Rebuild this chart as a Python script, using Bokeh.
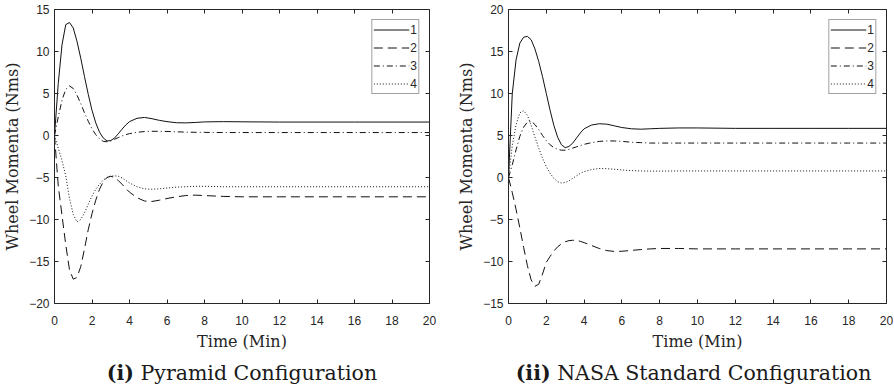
from bokeh.plotting import figure
from bokeh.models import Range1d, LinearAxis, FixedTicker, Legend, LegendItem, Div
from bokeh.layouts import row, column
from bokeh.embed import file_html
from bokeh.resources import INLINE

# ---------------- data ----------------
time_min = [0, 0.2, 0.4, 0.6, 0.8, 1.0, 1.2, 1.4, 1.6, 1.8, 2.0, 2.2, 2.4, 2.6, 2.8,
            3.0, 3.2, 3.4, 3.6, 3.8, 4.0, 4.4, 4.8, 5.2, 5.6, 6.0, 6.5, 7.0, 7.5, 8.0,
            9.0, 10.0, 12.0, 14.0, 16.0, 18.0, 20.0]

# (i) Pyramid configuration
pyr_1 = [0, 6.2, 10.8, 13.2, 13.45, 12.8, 11.2, 9.2, 7.0, 4.9, 3.0, 1.5, 0.4, -0.3, -0.65,
         -0.6, -0.3, 0.2, 0.75, 1.25, 1.65, 2.05, 2.15, 2.0, 1.8, 1.65, 1.52, 1.5, 1.55, 1.62,
         1.65, 1.63, 1.6, 1.6, 1.6, 1.6, 1.6]
pyr_2 = [0, -6.0, -9.5, -13.0, -16.0, -17.1, -16.9, -15.6, -13.5, -11.2, -9.3, -7.7, -6.4, -5.5, -5.0,
         -4.85, -5.0, -5.35, -5.8, -6.3, -6.75, -7.4, -7.8, -7.85, -7.7, -7.5, -7.3, -7.15, -7.1, -7.15,
         -7.25, -7.3, -7.3, -7.3, -7.3, -7.3, -7.3]
pyr_3 = [0, 2.2, 4.2, 5.5, 5.9, 5.6, 4.8, 3.8, 2.7, 1.7, 0.8, 0.1, -0.4, -0.7, -0.75,
         -0.65, -0.45, -0.25, -0.05, 0.1, 0.22, 0.38, 0.47, 0.5, 0.5, 0.48, 0.44, 0.4, 0.38, 0.37,
         0.35, 0.35, 0.35, 0.35, 0.35, 0.35, 0.35]
pyr_4 = [0, -1.5, -3.0, -4.8, -7.5, -9.4, -10.3, -10.0, -9.2, -8.2, -7.2, -6.4, -5.8, -5.3, -5.0,
         -4.85, -4.8, -4.85, -5.05, -5.35, -5.65, -6.1, -6.35, -6.4, -6.35, -6.25, -6.15, -6.1, -6.05, -6.05,
         -6.1, -6.1, -6.1, -6.1, -6.1, -6.1, -6.1]

# (ii) NASA standard configuration
nasa_1 = [0, 10.0, 14.0, 16.0, 16.7, 16.8, 16.4, 15.3, 13.8, 12.0, 10.0, 8.0, 6.2, 4.8, 3.9,
          3.55, 3.7, 4.1, 4.7, 5.3, 5.8, 6.25, 6.4, 6.35, 6.15, 5.95, 5.8, 5.75, 5.8, 5.85,
          5.9, 5.9, 5.85, 5.85, 5.85, 5.85, 5.85]
nasa_2 = [0, -1.8, -3.8, -6.0, -8.3, -10.5, -12.2, -12.95, -12.7, -11.5, -10.1, -9.4, -8.75, -8.25, -7.9,
          -7.65, -7.52, -7.47, -7.5, -7.6, -7.75, -8.1, -8.45, -8.7, -8.8, -8.78, -8.68, -8.58, -8.5, -8.45,
          -8.45, -8.5, -8.5, -8.5, -8.5, -8.5, -8.5]
nasa_3 = [0, 1.5, 3.3, 4.9, 6.0, 6.6, 6.7, 6.3, 5.7, 5.0, 4.4, 3.9, 3.55, 3.35, 3.25,
          3.25, 3.35, 3.5, 3.65, 3.8, 3.95, 4.15, 4.3, 4.35, 4.35, 4.3, 4.2, 4.15, 4.1, 4.1,
          4.1, 4.1, 4.1, 4.1, 4.1, 4.1, 4.1]
nasa_4 = [0, 3.8, 6.3, 7.7, 7.95, 7.4, 6.2, 4.8, 3.5, 2.3, 1.3, 0.5, -0.1, -0.5, -0.65,
          -0.6, -0.4, -0.1, 0.2, 0.5, 0.7, 0.95, 1.07, 1.05, 0.98, 0.9, 0.82, 0.78, 0.76, 0.76,
          0.78, 0.78, 0.78, 0.78, 0.78, 0.78, 0.78]

series_labels = ["1", "2", "3", "4"]
x_ticks = [0, 2, 4, 6, 8, 10, 12, 14, 16, 18, 20]
pyr_y_ticks = [-20, -15, -10, -5, 0, 5, 10, 15]
nasa_y_ticks = [-15, -10, -5, 0, 5, 10, 15, 20]

x_label = "Time (Min)"
y_label = "Wheel Momenta (Nms)"

# ---------------- styling ----------------
INK = "#262626"
LINE = "#111111"
dashes = ["solid", "9 5", "6 3 1 3", "1 2"]


def style_axis(ax, ticks, show_labels=True):
    ax.ticker = FixedTicker(ticks=ticks)
    ax.major_tick_in = 4
    ax.major_tick_out = 0
    ax.minor_tick_in = 0
    ax.minor_tick_out = 0
    ax.axis_line_color = INK
    ax.axis_line_width = 1
    ax.major_tick_line_color = INK
    ax.major_tick_line_width = 1
    if show_labels:
        ax.major_label_text_font = "Liberation Sans"
        ax.major_label_text_font_size = "12px"
        ax.major_label_text_color = INK
        ax.axis_label_text_font = "DejaVu Serif"
        ax.axis_label_text_font_size = "16px"
        ax.axis_label_text_font_style = "normal"
        ax.axis_label_text_color = INK
    else:
        ax.major_label_text_font_size = "0px"
        ax.major_label_text_color = None
        ax.major_label_standoff = 0


def make_panel(series, y_lo, y_hi, y_ticks, width, left_border, right_border):
    p = figure(width=width, height=360,
               x_range=Range1d(0, 20), y_range=Range1d(y_lo, y_hi),
               output_backend="svg", toolbar_location=None,
               min_border_left=left_border, min_border_right=right_border,
               min_border_top=9, min_border_bottom=57)
    p.grid.visible = False
    p.outline_line_color = None
    p.background_fill_color = "white"
    p.border_fill_color = "white"

    renderers = []
    for vals, dash in zip(series, dashes):
        r = p.line(time_min, vals, line_color=LINE, line_width=1, line_dash=dash)
        renderers.append(r)

    style_axis(p.xaxis[0], x_ticks)
    p.xaxis[0].axis_label = x_label
    p.xaxis[0].major_label_standoff = 12
    p.xaxis[0].axis_label_standoff = 4
    style_axis(p.yaxis[0], y_ticks)
    p.yaxis[0].axis_label = y_label
    p.yaxis[0].major_label_standoff = 5
    p.yaxis[0].axis_label_standoff = 4

    top = LinearAxis()
    style_axis(top, x_ticks, show_labels=False)
    p.add_layout(top, "above")
    right = LinearAxis()
    style_axis(right, y_ticks, show_labels=False)
    p.add_layout(right, "right")

    legend = Legend(items=[LegendItem(label=lab, renderers=[r])
                           for lab, r in zip(series_labels, renderers)],
                    location="top_right", margin=10, padding=1, spacing=1,
                    glyph_width=36, glyph_height=17, label_height=17, label_width=0,
                    label_standoff=1, label_text_font="Liberation Sans",
                    label_text_font_size="12px", label_text_color=INK,
                    border_line_color="#444444", border_line_width=1,
                    background_fill_color="white", background_fill_alpha=1.0)
    p.add_layout(legend)
    return p


p1 = make_panel([pyr_1, pyr_2, pyr_3, pyr_4], -20, 15, pyr_y_ticks, 444, 45, 15)
p2 = make_panel([nasa_1, nasa_2, nasa_3, nasa_4], -15, 20, nasa_y_ticks, 439, 47, 7)


def caption(bold, rest, width, pad_left):
    html = ('<div style="width:%dpx;box-sizing:border-box;padding-left:%dpx;padding-top:0px;'
            'text-align:center;font-family:\'DejaVu Serif\';font-size:20.5px;line-height:17px;'
            'color:#1a1a1a;white-space:nowrap;"><b>%s</b> %s</div>' % (width, pad_left, bold, rest))
    return Div(text=html, width=width, height=26)


c1 = caption("(i)", "Pyramid Configuration", 444, 30)
c2 = caption("(ii)", "NASA Standard Configuration", 439, 30)

layout = row(column(p1, c1, spacing=0), column(p2, c2, spacing=0), spacing=0)

open("out.html", "w").write(file_html(layout, INLINE))
